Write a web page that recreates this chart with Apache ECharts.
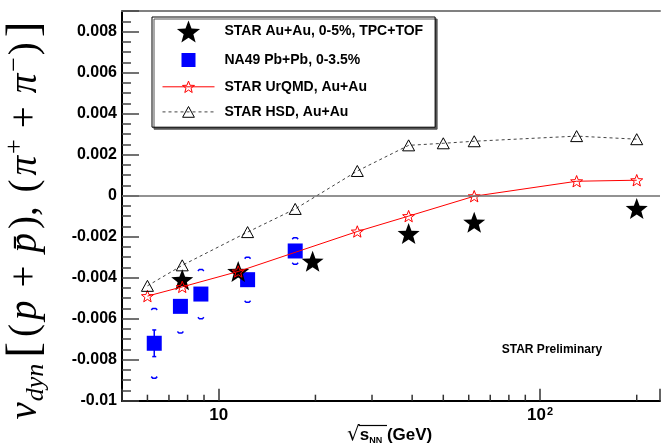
<!DOCTYPE html>
<html>
<head>
<meta charset="utf-8">
<script src="https://cdn.jsdelivr.net/npm/echarts@6/dist/echarts.min.js"></script>
<style>
  html, body { margin: 0; padding: 0; background: #fff; }
  #chart { width: 663px; height: 446px; }
</style>
</head>
<body>
<div id="chart"></div>
<script>
// Collision energies (GeV) and nu_dyn values per data set
const starEnergy = [7.7, 11.5, 19.6, 39, 62.4, 200];
const starNuDyn  = [-0.0041, -0.0037, -0.0032, -0.00185, -0.0013, -0.00063];

const na49Energy = [6.3, 7.6, 8.8, 12.3, 17.3];
const na49NuDyn  = [-0.0072, -0.0054, -0.0048, -0.0041, -0.0027];
const na49Stat   = [0.00065, 0.00025, 0.00025, 0.0002, 0.0002];
const na49Sys    = [0.0017, 0.0013, 0.0012, 0.0011, 0.00065];

const urqmdEnergy = [6, 7.7, 11.5, 27, 39, 62.4, 130, 200];
const urqmdNuDyn  = [-0.0049, -0.00445, -0.0037, -0.00175, -0.001, -0.00003, 0.0007, 0.00075];

const hsdEnergy = [6, 7.7, 12.3, 17.3, 27, 39, 50, 62.4, 130, 200];
const hsdNuDyn  = [-0.0044, -0.0034, -0.00178, -0.00065, 0.0012, 0.00245, 0.00255, 0.00265, 0.0029, 0.00275];

// Axis ranges and tick positions
const xMin = 5, xMax = 236.3;
const yMin = -0.01, yMax = 0.009;
const xMinorTicks = [6, 7, 8, 9, 20, 30, 40, 50, 60, 70, 80, 90, 200];

const names = {
  star: 'STAR Au+Au, 0-5%, TPC+TOF',
  na49: 'NA49 Pb+Pb, 0-3.5%',
  urqmd: 'STAR UrQMD, Au+Au',
  hsd: 'STAR HSD, Au+Au'
};

// Marker shapes
const starShape = 'M0,-10L2.469,-3.398L9.511,-3.09L3.995,1.298L5.878,8.09L0,4.2L-5.878,8.09L-3.995,1.298L-9.511,-3.09L-2.469,-3.398Z';
const starFilled = 'path://' + starShape;
const starOpen = 'path://M-13.95,-14.9M13.95,13' + starShape;
const triOpen = 'path://M-9,-3.5M9,14.5M0,0L6,11L-6,11Z';
const squareIcon = 'path://M-4,-4M18,18M0,0H14V14H0Z';

const pairs = (xs, ys) => xs.map((x, i) => [x, ys[i]]);

const sansBold = { fontFamily: 'Liberation Sans, Arial, sans-serif', fontWeight: 'bold', color: '#000' };
const serif = 'Liberation Serif, DejaVu Serif, serif';

const chart = echarts.init(document.getElementById('chart'), null, { renderer: 'canvas' });

chart.setOption({
  animation: false,
  backgroundColor: '#fff',
  grid: { left: 122, top: 11, right: 0, bottom: 45.3, containLabel: false },
  xAxis: [
    {
      type: 'log', min: xMin, max: xMax, logBase: 10,
      axisLine: { show: true, onZero: false, lineStyle: { color: '#000', width: 2 } },
      axisTick: { show: true, inside: true, length: 12, lineStyle: { color: '#333', width: 1.5 } },
      splitLine: { show: false },
      minorTick: { show: false },
      axisLabel: {
        margin: 6,
        formatter: v => {
          const lg = Math.log10(v);
          if (Math.abs(lg - 1) < 1e-6) return '{b|10}';
          if (Math.abs(lg - 2) < 1e-6) return '{b|10}{s|2}';
          return '';
        },
        rich: {
          b: Object.assign({ fontSize: 17 }, sansBold),
          s: Object.assign({ fontSize: 11, verticalAlign: 'top', padding: [0, 0, 0, 1] }, sansBold)
        }
      }
    },
    {
      type: 'log', min: xMin, max: xMax, position: 'top',
      axisLine: { show: true, onZero: false, lineStyle: { color: '#808080', width: 2 } },
      axisTick: { show: false }, axisLabel: { show: false }, splitLine: { show: false }
    }
  ],
  yAxis: [
    {
      type: 'value', min: yMin, max: yMax, interval: 0.002, position: 'left',
      axisLine: { show: true, onZero: false, lineStyle: { color: '#000', width: 2 } },
      axisTick: { show: true, inside: true, length: 17, lineStyle: { color: '#444', width: 1.5 } },
      splitLine: { show: false },
      axisLabel: Object.assign({
        margin: 5, fontSize: 16,
        formatter: v => {
          const k = Math.round(v / 0.002);
          if (Math.abs(v - k * 0.002) > 1e-9) return '';
          return String(parseFloat(v.toFixed(3)));
        }
      }, sansBold)
    },
    {
      type: 'value', min: yMin, max: yMax, interval: 0.0005, position: 'left', offset: 0,
      axisLine: { show: false, onZero: false },
      axisTick: { show: true, inside: true, length: 9, lineStyle: { color: '#444', width: 1.5 } },
      axisLabel: { show: false }, splitLine: { show: false }
    }
  ],
  legend: {
    orient: 'vertical', left: 152, top: 17,
    padding: [3.5, 12, 6, 10],
    itemWidth: 52, itemHeight: 22, itemGap: 6.5,
    selectedMode: false,
    backgroundColor: '#fff', borderColor: '#000', borderWidth: 1, borderRadius: 0,
    shadowColor: '#555', shadowBlur: 0, shadowOffsetX: 2, shadowOffsetY: 2,
    textStyle: Object.assign({ fontSize: 14, padding: [0, 0, 0, 5] }, sansBold),
    data: [
      { name: names.star, icon: starFilled, itemStyle: { color: '#000', borderWidth: 0, opacity: 1 } },
      { name: names.na49, icon: squareIcon, itemStyle: { color: '#0000ff', borderWidth: 0, opacity: 1 } },
      { name: names.urqmd, itemStyle: { color: 'transparent', borderColor: '#ff0000', borderWidth: 1 },
        lineStyle: { color: '#ff0000', width: 1 } },
      { name: names.hsd, itemStyle: { color: 'transparent', borderColor: '#000', borderWidth: 1 },
        lineStyle: { color: '#444', width: 1, type: [3, 3] } }
    ]
  },
  graphic: [
    {
      type: 'text', x: 26, y: 219, rotation: Math.PI / 2,
      style: {
        text: '{nu|ν}{sub|dyn}{br|[}{t|(}{it|p}{op|+}{it|p̄}{t|),}{t| (}{it|π}{sup|+}{op|+}{it|π}{sup|−}{t|)}{br|]}',
        align: 'center', verticalAlign: 'middle',
        rich: {
          nu: { fontFamily: serif, fontStyle: 'italic', fontSize: 39, fill: '#000', padding: [0, 1, 0, 0] },
          sub: { fontFamily: serif, fontStyle: 'italic', fontSize: 26, verticalAlign: 'bottom', fill: '#000', padding: [0, 3, 0, 0] },
          br: { fontFamily: serif, fontSize: 47, fill: '#000', padding: [0, 3, 0, 3] },
          t: { fontFamily: serif, fontSize: 39, fill: '#000', padding: [0, 2, 0, 2] },
          it: { fontFamily: serif, fontStyle: 'italic', fontSize: 39, fill: '#000', padding: [0, 2, 0, 2] },
          op: { fontFamily: serif, fontSize: 39, fill: '#000', padding: [0, 11, 0, 11] },
          sup: { fontFamily: serif, fontSize: 26, verticalAlign: 'top', fill: '#000' }
        }
      }
    },
    {
      type: 'text', x: 347, y: 435,
      style: {
        text: '{r|√}{s|s}{n|NN}{g| (GeV)}',
        align: 'left', verticalAlign: 'middle',
        rich: {
          r: { fontFamily: 'DejaVu Sans, sans-serif', fontSize: 20, fill: '#000' },
          s: { fontFamily: 'Liberation Sans, Arial, sans-serif', fontWeight: 'bold', fontSize: 17, fill: '#000' },
          n: { fontFamily: 'Liberation Sans, Arial, sans-serif', fontWeight: 'bold', fontSize: 9, verticalAlign: 'bottom', fill: '#000' },
          g: { fontFamily: 'Liberation Sans, Arial, sans-serif', fontWeight: 'bold', fontSize: 17, fill: '#000' }
        }
      }
    },
    {
      type: 'line', shape: { x1: 358.5, y1: 425.5, x2: 387, y2: 425.5 },
      style: { stroke: '#000', lineWidth: 1.2 }
    },
    {
      type: 'text', x: 552, y: 350,
      style: {
        text: 'STAR Preliminary', align: 'center', verticalAlign: 'middle',
        font: 'bold 12px "Liberation Sans", Arial, sans-serif', fill: '#000'
      }
    }
  ],
  series: [
    {
      // NA49 statistical bars and systematic brackets, plus the zero reference line
      name: 'na49-errors', type: 'custom', xAxisIndex: 0, yAxisIndex: 0,
      data: na49Energy.map((e, i) => [e, na49NuDyn[i], na49Stat[i], na49Sys[i]]),
      encode: { x: 0, y: 1 },
      silent: true,
      renderItem: (params, api) => {
        const x = api.value(0), y = api.value(1), st = api.value(2), sy = api.value(3);
        const top = api.coord([x, y + st]);
        const bot = api.coord([x, y - st]);
        const sTop = api.coord([x, y + sy]);
        const sBot = api.coord([x, y - sy]);
        const cx = top[0];
        const blue = { stroke: '#0000ff', lineWidth: 1.5, fill: 'none' };
        return {
          type: 'group',
          children: [
            { type: 'line', shape: { x1: cx, y1: top[1], x2: cx, y2: bot[1] }, style: blue },
            { type: 'line', shape: { x1: cx - 2, y1: top[1], x2: cx + 2, y2: top[1] }, style: blue },
            { type: 'line', shape: { x1: cx - 2, y1: bot[1], x2: cx + 2, y2: bot[1] }, style: blue },
            { type: 'polyline', shape: { points: [[cx - 3, sTop[1] + 1.5], [cx - 1.5, sTop[1]], [cx + 1.5, sTop[1]], [cx + 3, sTop[1] + 1.5]] }, style: blue },
            { type: 'polyline', shape: { points: [[cx - 3, sBot[1] - 1.5], [cx - 1.5, sBot[1]], [cx + 1.5, sBot[1]], [cx + 3, sBot[1] - 1.5]] }, style: blue }
          ]
        };
      },
      markLine: {
        silent: true, symbol: ['none', 'none'], label: { show: false },
        lineStyle: { color: '#6e6e6e', width: 1.5, type: 'solid' },
        emphasis: { disabled: true },
        data: [{ yAxis: 0 }]
      }
    },
    {
      name: names.na49, type: 'scatter',
      data: pairs(na49Energy, na49NuDyn),
      symbol: 'rect', symbolSize: 15,
      itemStyle: { color: '#0000ff', opacity: 1 },
      emphasis: { disabled: true }
    },
    {
      name: names.star, type: 'scatter',
      data: pairs(starEnergy, starNuDyn),
      symbol: starFilled, symbolSize: [22, 21],
      itemStyle: { color: '#000', opacity: 1 },
      emphasis: { disabled: true }
    },
    {
      name: names.urqmd, type: 'line',
      data: pairs(urqmdEnergy, urqmdNuDyn),
      symbol: starOpen, symbolSize: 17.6, showAllSymbol: true,
      itemStyle: { color: 'transparent', borderColor: '#ff0000', borderWidth: 1 },
      lineStyle: { color: '#ff0000', width: 1 },
      emphasis: { disabled: true }
    },
    {
      name: names.hsd, type: 'line',
      data: pairs(hsdEnergy, hsdNuDyn),
      symbol: triOpen, symbolSize: 18, showAllSymbol: true,
      itemStyle: { color: 'transparent', borderColor: '#000', borderWidth: 1 },
      lineStyle: { color: '#444', width: 1, type: [3, 3] },
      emphasis: { disabled: true }
    },
    {
      // minor ticks of the logarithmic energy axis
      name: 'x-minor-ticks', type: 'custom', silent: true,
      data: xMinorTicks.map(v => [v, yMin]),
      encode: { x: 0, y: 1 },
      renderItem: (params, api) => {
        const p = api.coord([api.value(0), api.value(1)]);
        return {
          type: 'line',
          shape: { x1: p[0], y1: p[1], x2: p[0], y2: p[1] - 6 },
          style: { stroke: '#333', lineWidth: 1.5 }
        };
      }
    }
  ]
});
</script>
</body>
</html>
